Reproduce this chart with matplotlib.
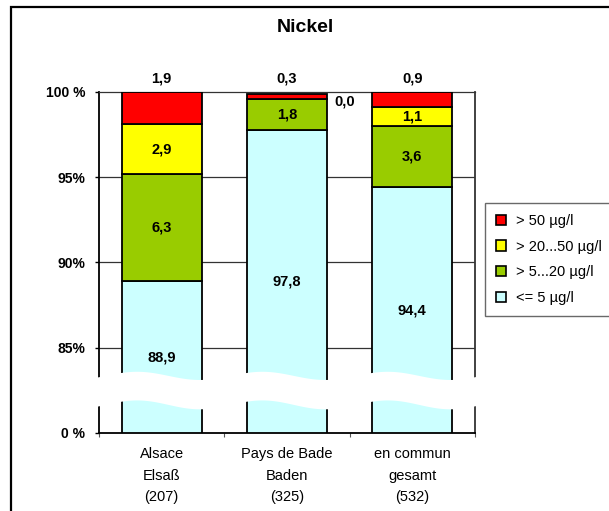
import numpy as np
import matplotlib
matplotlib.use("Agg")
from matplotlib import pyplot as plt
from matplotlib.patches import Patch, Rectangle, Polygon

plt.rcParams["font.family"] = ["Liberation Sans", "DejaVu Sans"]

# data (percent of samples per class)
regions = ["Alsace\nElsaß\n(207)", "Pays de Bade\nBaden\n(325)", "en commun\ngesamt\n(532)"]
classes = ["<= 5 µg/l", "> 5...20 µg/l", "> 20...50 µg/l", "> 50 µg/l"]
le5 = [88.9, 97.8, 94.4]
gt5 = [6.3, 1.8, 3.6]
gt20 = [2.9, 0.0, 1.1]
gt50 = [1.9, 0.3, 0.9]
colors = ["#CCFFFF", "#99CC00", "#FFFF00", "#FF0000"]

# broken axis: 0 % is drawn at the 80 position
AX_MIN = 80
ytick_vals = [80, 85, 90, 95, 100]
ytick_labels = ["0 %", "85%", "90%", "95%", "100 %"]

fig = plt.figure(figsize=(6.09, 5.11), dpi=100)
ax = fig.add_axes([99 / 609, 78 / 511, 376 / 609, 341 / 511])

x = np.arange(len(regions))
width = 0.637
series = [le5, gt5, gt20, gt50]

bottom = np.full(len(regions), float(AX_MIN))
for i, (vals, col) in enumerate(zip(series, colors)):
    heights = np.array(vals, dtype=float)
    if i == 0:
        heights = heights - AX_MIN
    ax.bar(x, heights, width, bottom=bottom, color=col, edgecolor="black",
           linewidth=1.3, zorder=3)
    # value labels
    for j in range(len(regions)):
        v = vals[j]
        txt = f"{v:.1f}".replace(".", ",")
        if i == 3:
            ax.annotate(txt, (x[j], 100), xytext=(0, 10), textcoords="offset points",
                        ha="center", va="center", fontsize=10.5, fontweight="bold", zorder=6)
        elif v == 0:
            ax.annotate(txt, (x[j] + width / 2, bottom[j]), xytext=(13, -2),
                        textcoords="offset points", ha="center", va="center",
                        fontsize=10.5, fontweight="bold", zorder=6)
        else:
            ax.text(x[j], bottom[j] + heights[j] / 2, txt, ha="center", va="center",
                    fontsize=10.5, fontweight="bold", zorder=6)
    bottom = bottom + heights

ax.set_xlim(-0.5, 2.5)
ax.set_ylim(AX_MIN, 100)
ax.set_yticks(ytick_vals)
ax.set_yticklabels(ytick_labels, fontsize=10, fontweight="bold")
ax.tick_params(axis="y", length=3, width=1, pad=7)

ax.set_xticks([-0.5, 0.5, 1.5, 2.5])
ax.set_xticklabels([])
ax.tick_params(axis="x", which="major", length=3, width=0.8, color="#555555")
ax.set_xticks(x, minor=True)
ax.set_xticklabels(regions, minor=True, fontsize=10.5, linespacing=1.7)
ax.tick_params(axis="x", which="minor", length=0, pad=10)

for v in [85, 90, 95]:
    ax.axhline(v, color="#333333", linewidth=0.9, zorder=1)
ax.spines["top"].set_color("#333333")
ax.spines["top"].set_linewidth(0.9)
ax.spines["right"].set_color("#333333")
ax.spines["right"].set_linewidth(1.3)
ax.spines["left"].set_linewidth(1.3)
ax.spines["bottom"].set_linewidth(1.3)

# white wavy break band
wx = np.linspace(-0.62, 2.56, 300)
wave = np.sin(2 * np.pi * (wx - 0.554))
top_edge = 83.35 + 0.24 * wave
bot_edge = 81.65 + 0.26 * wave
poly = np.vstack([np.column_stack([wx, top_edge]), np.column_stack([wx[::-1], bot_edge[::-1]])])
ax.add_patch(Polygon(poly, closed=True, facecolor="white", edgecolor="none",
                     zorder=5, clip_on=False))

# title
fig.text(305 / 609, 1 - 27 / 511, "Nickel", ha="center", va="center",
         fontsize=14, fontweight="bold")

# legend
handles = [Patch(facecolor=c, edgecolor="black", linewidth=1.2) for c in colors[::-1]]
leg = fig.legend(handles, classes[::-1], loc="upper left",
                 bbox_to_anchor=(485 / 609, 1 - 203 / 511), borderaxespad=0,
                 fontsize=10.5, frameon=True, fancybox=False, handlelength=0.7,
                 handleheight=0.7, handletextpad=0.7, labelspacing=0.8, borderpad=0.75)
leg.get_frame().set_edgecolor("#444444")
leg.get_frame().set_linewidth(1.0)

# figure border
fig.patches.append(Rectangle((11 / 609, -0.2), 1.2, 0.2 + 1 - 7 / 511,
                             transform=fig.transFigure, fill=False,
                             edgecolor="black", linewidth=1.6))

fig.savefig("out.png", dpi=100)
